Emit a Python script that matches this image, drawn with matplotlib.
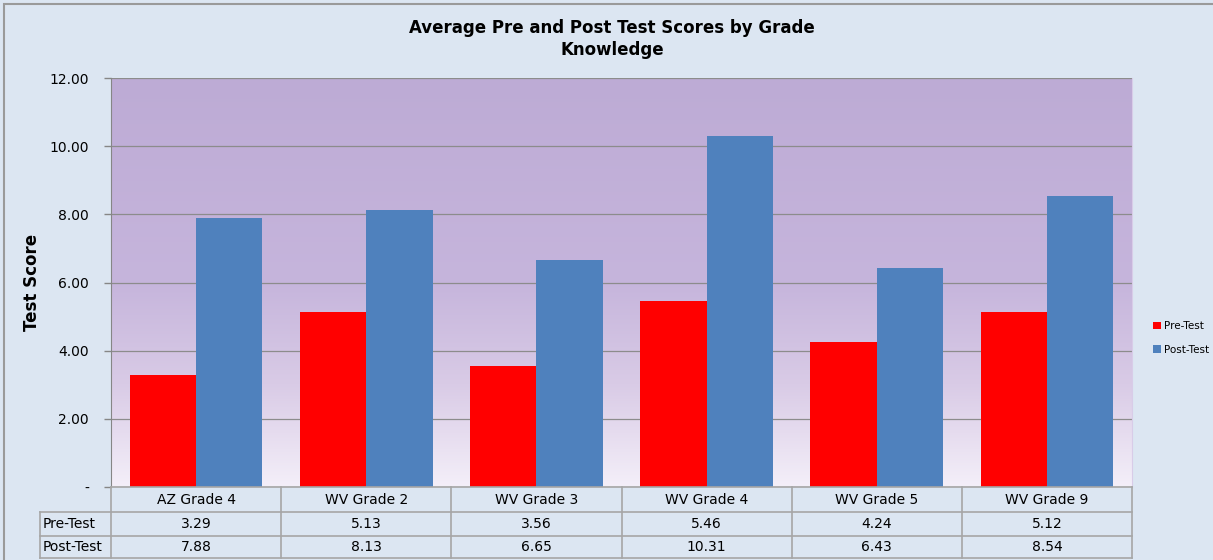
import numpy as np
import matplotlib
matplotlib.use('Agg')
import matplotlib.pyplot as plt
from matplotlib.colors import LinearSegmentedColormap
from matplotlib.patches import Rectangle

plt.rcParams['font.family'] = 'DejaVu Sans'

# data
grades = ['AZ Grade 4', 'WV Grade 2', 'WV Grade 3', 'WV Grade 4', 'WV Grade 5', 'WV Grade 9']
pre_test = [3.29, 5.13, 3.56, 5.46, 4.24, 5.12]
post_test = [7.88, 8.13, 6.65, 10.31, 6.43, 8.54]
series_names = ['Pre-Test', 'Post-Test']
y_ticks = [0, 2, 4, 6, 8, 10, 12]

bg = '#dce6f2'
line_col = '#a6a6a6'

fig = plt.figure(figsize=(12.13, 5.6), dpi=100, facecolor=bg)
W, H = 1213, 560
ax = fig.add_axes([111 / W, 1 - 487 / H, (1132 - 111) / W, (487 - 78) / H])

# outer border (picture is cropped on the right and bottom)
fig.add_artist(Rectangle((4 / W, -0.05), 1.1, 1 - 4 / H + 0.05, transform=fig.transFigure,
                         fill=False, edgecolor='#9a9a9a', lw=1.5))

# gradient plot area
cmap = LinearSegmentedColormap.from_list(
    'grad', [(0, '#f4eff9'), (0.25, '#d9cbe6'), (0.5, '#c6b5dc'), (1, '#bdabd5')])
grad = np.linspace(0, 1, 256).reshape(-1, 1)
ax.imshow(grad, aspect='auto', cmap=cmap, origin='lower',
          extent=[0, 1, 0, 1], transform=ax.transAxes, zorder=0)

x = np.arange(len(grades))
bw = 0.39
ax.bar(x - bw / 2, pre_test, bw, color='#ff0000', zorder=3, label=series_names[0])
ax.bar(x + bw / 2, post_test, bw, color='#4f81bd', zorder=3, label=series_names[1])

ax.set_xlim(-0.5, len(grades) - 0.5)
ax.set_ylim(0, 12)
ax.set_yticks(y_ticks)
ax.set_yticklabels(['-' if v == 0 else '%.2f' % v for v in y_ticks], fontsize=10)
ax.tick_params(axis='y', length=5, width=1, color='#868686', pad=11)
ax.set_xticks([])
ax.yaxis.grid(True, color='#8c8c8c', lw=0.9, zorder=1)
for s in ['top', 'bottom']:
    ax.spines[s].set_visible(False)
ax.spines['left'].set_color('#868686')
ax.spines['right'].set_color('#d8cce8')

ax.set_ylabel('Test Score', fontsize=12, fontweight='bold')
ax.yaxis.set_label_coords(-0.0686, 0.5)

fig.text(612 / W, 1 - 28 / H, 'Average Pre and Post Test Scores by Grade',
         ha='center', va='center', fontsize=12, fontweight='bold')
fig.text(612 / W, 1 - 50 / H, 'Knowledge',
         ha='center', va='center', fontsize=12, fontweight='bold')

# data table under the plot
tr = ax.get_xaxis_transform()
rows = [0, -25 / 409, -49 / 409, -71 / 409]
lab_left = -0.5 - 71 / (1021 / 6)
kw = dict(color=line_col, lw=1.2, transform=tr, clip_on=False, zorder=5)
ax.plot([-0.5, 5.5], [rows[0], rows[0]], **kw)
for r in rows[1:]:
    ax.plot([lab_left, 5.5], [r, r], **kw)
for xv in np.arange(-0.5, 6.0, 1.0):
    ax.plot([xv, xv], [rows[0], rows[3]], **kw)
ax.plot([lab_left, lab_left], [rows[1], rows[3]], **kw)

for i, g in enumerate(grades):
    ax.text(i, (rows[0] + rows[1]) / 2, g, transform=tr, ha='center', va='center', fontsize=10)
    ax.text(i, (rows[1] + rows[2]) / 2, '%.2f' % pre_test[i], transform=tr,
            ha='center', va='center', fontsize=10)
    ax.text(i, (rows[2] + rows[3]) / 2, '%.2f' % post_test[i], transform=tr,
            ha='center', va='center', fontsize=10)
ax.text(lab_left + 0.015, (rows[1] + rows[2]) / 2, series_names[0], transform=tr,
        ha='left', va='center', fontsize=10)
ax.text(lab_left + 0.015, (rows[2] + rows[3]) / 2, series_names[1], transform=tr,
        ha='left', va='center', fontsize=10)

fig.legend(loc='center left', bbox_to_anchor=(1144 / W, 1 - 338 / H), frameon=False,
           fontsize=7.5, handlelength=0.7, handleheight=0.7, handletextpad=0.3,
           labelspacing=1.3)

fig.savefig('out.png', dpi=100, facecolor=bg)
